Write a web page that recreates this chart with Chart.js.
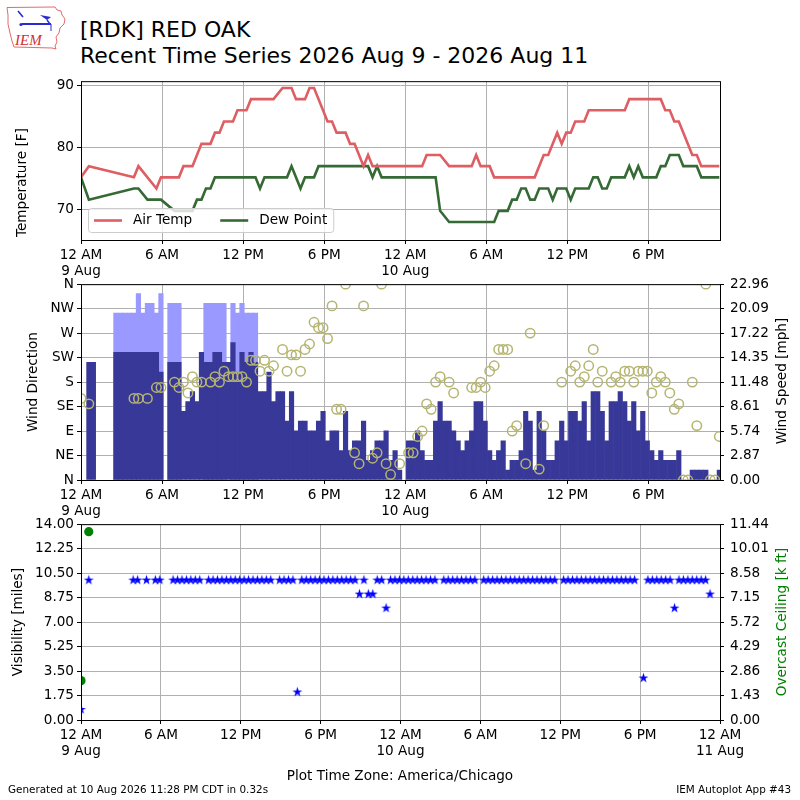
<!DOCTYPE html>
<html>
<head>
<meta charset="utf-8">
<title>[RDK] RED OAK Recent Time Series</title>
<script src="https://cdn.jsdelivr.net/npm/chart.js@4.4.1/dist/chart.umd.min.js"></script>
<style>
  html, body { margin: 0; padding: 0; background: #fff; }
  body { width: 800px; height: 800px; position: relative; overflow: hidden; font-family: 'DejaVu Sans', sans-serif; color: #000; }
  canvas { position: absolute; left: 0; }
  .txt { position: absolute; white-space: nowrap; }
  #title { left: 80px; top: 17px; font-size: 22px; line-height: 26px; }
  #tz { left: 0; width: 800px; text-align: center; top: 767px; font-size: 13.6px; line-height: 16px; }
  #gen { left: 8px; top: 783px; font-size: 10.4px; line-height: 12px; }
  #app { right: 9px; top: 783px; font-size: 10.4px; line-height: 12px; }
</style>
</head>
<body>
<svg width="80" height="56" style="position:absolute;left:0;top:0">
  <path d="M7,7.5 L55,7 L57,10 L61,11 L62,15 L65,19 L64,24 L60,28 L59,33 L56,37 L57,42 L55,46 L56,49 L52,48 L14,47 L12,41 L10,33 L8,24 L8,15 Z" fill="#fff" stroke="#e05a5a" stroke-width="0.9"/>
  <line x1="18" y1="11" x2="23" y2="17" stroke="#2a2ad0" stroke-width="1.6"/>
  <line x1="22" y1="24" x2="51" y2="24" stroke="#2a2ad0" stroke-width="2"/>
  <path d="M40,15 L51,17 L47,20 Z" fill="#2a2ad0"/>
  <line x1="47" y1="20" x2="50" y2="24" stroke="#2a2ad0" stroke-width="1.4"/>
  <circle cx="21" cy="24.5" r="1.6" fill="#2a2ad0"/>
  <line x1="51" y1="24" x2="51" y2="31" stroke="#2a2ad0" stroke-width="1"/>
  <text x="15" y="44.5" font-family="'Liberation Serif', 'DejaVu Serif', serif" font-style="italic" font-size="15" fill="#d43030">IEM</text>
</svg>
<div id="title" class="txt">[RDK] RED OAK<br>Recent Time Series 2026 Aug 9 - 2026 Aug 11</div>
<canvas id="tempCanvas" width="800" height="212" style="top:70px"></canvas>
<canvas id="windCanvas" width="800" height="252" style="top:270px"></canvas>
<canvas id="visCanvas" width="800" height="252" style="top:510px"></canvas>
<div id="tz" class="txt">Plot Time Zone: America/Chicago</div>
<div id="gen" class="txt">Generated at 10 Aug 2026 11:28 PM CDT in 0.32s</div>
<div id="app" class="txt">IEM Autoplot App #43</div>
<script>
// hours are counted from 12 AM 9 Aug (local time)
const hourLabels = ['12 AM', '6 AM', '12 PM', '6 PM'];
const dayLabels = ['9 Aug', '10 Aug', '11 Aug'];
const dirLabels = ['N', 'NE', 'E', 'SE', 'S', 'SW', 'W', 'NW', 'N'];
const upperTickHours = [0, 6, 12, 18, 24, 30, 36, 42];
const lowerTickHours = [0, 6, 12, 18, 24, 30, 36, 42, 48];
const tempTicks = [70, 80, 90];
const dirTicks = [0, 45, 90, 135, 180, 225, 270, 315, 360];
const speedTicks = [0, 2.87, 5.74, 8.61, 11.48, 14.35, 17.22, 20.09, 22.96];
const visTicks = [0, 1.75, 3.5, 5.25, 7, 8.75, 10.5, 12.25, 14];
const ceilTicks = [0, 1.43, 2.86, 4.29, 5.72, 7.15, 8.58, 10.01, 11.44];

// temperature traces (vertices)
const airTempHours = [0, 0.583, 3.917, 4.25, 5.583, 5.917, 7.25, 7.583, 8.25, 8.917,
  9.583, 9.917, 10.25, 10.583, 11.25, 11.583, 12.25, 12.583, 14.25, 14.917,
  15.583, 15.917, 16.583, 16.917, 17.25, 18.25, 18.583, 18.917, 19.583, 19.917,
  20.25, 20.917, 21.25, 21.583, 25.25, 25.583, 26.583, 27.25, 28.917, 29.25,
  29.583, 30.25, 30.583, 33.583, 34.25, 34.583, 35.25, 35.583, 35.917, 36.25,
  36.583, 37.25, 37.583, 40.25, 40.583, 42.917, 43.25, 43.583, 43.917, 44.25,
  45.25, 45.583, 45.917, 47.25];
const airTempF = [75.2, 77, 75.2, 77, 73.4, 75.2, 75.2, 77, 77, 80.6,
  80.6, 82.4, 82.4, 84.2, 84.2, 86, 86, 87.8, 87.8, 89.6,
  89.6, 87.8, 87.8, 89.6, 89.6, 84.2, 84.2, 82.4, 82.4, 80.6,
  80.6, 77, 78.8, 77, 77, 78.8, 78.8, 77, 77, 78.8,
  77, 77, 75.2, 75.2, 78.8, 78.8, 82.4, 80.6, 82.4, 82.4,
  84.2, 84.2, 86, 86, 87.8, 87.8, 86, 86, 84.2, 84.2,
  78.8, 78.8, 77, 77];
const dewHours = [0, 0.583, 3.917, 4.25, 4.917, 5.917, 6.917, 8.25, 8.583, 8.917,
  9.25, 9.583, 9.917, 12.917, 13.25, 13.583, 15.25, 15.583, 16.25, 16.583,
  17.25, 17.583, 21.25, 21.583, 21.917, 22.25, 26.25, 26.583, 27.25, 30.583,
  30.917, 31.583, 31.917, 32.25, 32.583, 32.917, 33.25, 33.583, 33.917, 34.583,
  34.917, 35.25, 35.917, 36.25, 36.583, 37.583, 37.917, 38.25, 38.583, 38.917,
  39.25, 40.25, 40.583, 40.917, 41.25, 41.583, 42.583, 42.917, 43.25, 43.583,
  44.25, 44.583, 45.583, 45.917, 47.25];
const dewPointF = [75.2, 71.6, 73.4, 73.4, 71.6, 71.6, 69.8, 69.8, 71.6, 71.6,
  73.4, 73.4, 75.2, 75.2, 73.4, 75.2, 75.2, 77, 73.4, 75.2,
  75.2, 77, 77, 75.2, 77, 75.2, 75.2, 69.8, 68, 68,
  69.8, 69.8, 71.6, 71.6, 73.4, 73.4, 71.6, 71.6, 73.4, 73.4,
  71.6, 73.4, 73.4, 71.6, 73.4, 73.4, 75.2, 75.2, 73.4, 73.4,
  75.2, 75.2, 77, 75.2, 77, 75.2, 75.2, 77, 77, 78.8,
  78.8, 77, 77, 75.2, 75.2];

// wind direction circles
const dirHours = [0, 0.583, 3.917, 4.25, 4.917, 5.583, 5.917, 6.917, 7.25, 7.583,
  7.917, 8.25, 8.583, 8.917, 9.583, 9.917, 10.25, 10.583, 10.917, 11.25,
  11.583, 11.917, 12.25, 12.583, 12.917, 13.25, 13.583, 13.917, 14.25, 14.917,
  15.25, 15.583, 15.917, 16.25, 16.583, 16.917, 17.25, 17.583, 17.917, 18.25,
  18.583, 18.917, 19.25, 19.583, 20.25, 20.583, 20.917, 21.583, 21.917, 22.25,
  22.583, 22.917, 23.583, 24.25, 24.583, 24.917, 25.25, 25.583, 25.917, 26.25,
  26.583, 27.25, 27.583, 28.917, 29.25, 29.583, 29.917, 30.25, 30.583, 30.917,
  31.25, 31.583, 31.917, 32.25, 32.917, 33.25, 33.917, 34.25, 35.583, 36.25,
  36.583, 36.917, 37.25, 37.583, 37.917, 38.25, 38.583, 39.25, 39.583, 39.917,
  40.25, 40.583, 40.917, 41.25, 41.583, 41.917, 42.25, 42.583, 42.917, 43.25,
  43.583, 43.917, 44.25, 44.583, 44.917, 45.25, 45.583, 46.25, 46.583, 46.917,
  47.25];
const windDirDeg = [150, 140, 150, 150, 150, 170, 170, 180, 170, 180,
  160, 190, 180, 180, 180, 190, 180, 200, 190, 190,
  190, 190, 180, 220, 220, 200, 220, 200, 210, 240,
  200, 230, 230, 200, 240, 250, 290, 280, 280, 260,
  320, 130, 130, 360, 50, 30, 320, 40, 50, 360,
  30, 10, 30, 50, 50, 80, 90, 140, 130, 180,
  190, 180, 160, 170, 170, 180, 170, 200, 210, 240,
  240, 240, 90, 100, 30, 270, 20, 100, 180, 200,
  210, 180, 190, 210, 240, 180, 200, 180, 190, 180,
  200, 200, 180, 200, 200, 200, 160, 180, 190, 180,
  160, 130, 140, 0, 0, 180, 100, 360, 0, 0,
  80];

// routine reports every 20 minutes (:15, :35, :55); each row below covers 3 hours
const clockHours = [];
for (let k = 0; k < 142; k++) clockHours.push(0.25 + k / 3);

const windSpeedMph = [
  null, 13.8, 13.8, null, null, null, null, 14.96, 14.96,
  14.96, 14.96, 14.96, 14.96, 14.96, 14.96, 14.96, 14.96, 12.66,
  null, 13.8, 13.8, 13.8, 8.06, 9.2, 10.36, 9.2, 14.96,
  13.8, 13.8, 14.96, 14.96, 13.8, 13.8, 16.11, 12.66, 14.96,
  13.8, 14.96, 13.8, 10.36, 10.36, 12.66, 9.2, 10.36, 10.36,
  6.9, 10.36, 5.75, 6.9, 6.9, 5.75, 5.75, 6.9, 8.06,
  4.6, 5.75, 5.75, 3.45, 8.06, 3.45, 4.6, 4.6, 6.9,
  2.3, 3.45, 4.6, 4.6, 5.75, 2.3, 3.45, 1.15, null,
  4.6, 4.6, 5.75, 3.45, 2.3, 2.3, 6.9, 9.2, 6.9,
  6.9, 5.75, 4.6, 3.45, 4.6, 5.75, 9.2, 9.2, 6.9,
  3.45, 2.3, 3.45, 4.6, 1.15, 2.3, 2.3, 3.45, 8.06,
  6.9, 1.15, 8.06, 5.75, 2.3, 2.3, 4.6, 6.9, 4.6,
  8.06, 8.06, 6.9, 9.2, 4.6, 10.36, 10.36, 8.06, 4.6,
  9.2, 9.2, 10.36, 9.2, 6.9, 9.2, 5.75, 8.06, 4.6,
  3.45, 2.3, 3.45, 2.3, 2.3, 2.3, 3.45, 0, 0,
  1.15, 1.15, 1.15, 1.15, 0, 0, 1.15];
// gusts only reported during the first day's morning
const windGustMph = [
  null, null, null, null, null, null, null, 19.56, 19.56,
  19.56, 19.56, 19.56, 21.86, 19.56, 20.7, 20.7, 19.56, 21.86,
  null, 20.7, 20.7, 20.7, null, null, null, null, null,
  20.7, 20.7, 20.7, 20.7, 20.7, null, 20.7, 19.56, 20.7,
  19.56, 19.56, 19.56];
const visibilityMiles = [
  null, 10, null, null, null, null, null, null, null,
  null, null, 10, 10, null, 10, null, 10, 10,
  null, null, 10, 10, 10, 10, 10, 10, 10,
  null, 10, 10, 10, 10, 10, 10, 10, 10,
  10, 10, 10, 10, 10, 10, 10, null, 10,
  10, 10, 10, 2, 10, 10, 10, 10, 10,
  10, 10, 10, 10, 10, 10, 10, 10, 9,
  10, 9, 9, 10, 10, 8, 10, 10, 10,
  10, 10, 10, 10, 10, 10, 10, 10, null,
  10, 10, 10, 10, 10, 10, 10, 10, null,
  10, 10, 10, 10, 10, 10, 10, 10, 10,
  10, 10, 10, 10, 10, 10, 10, 10, null,
  10, 10, 10, 10, 10, 10, 10, 10, 10,
  10, 10, 10, 10, 10, 10, 10, 10, null,
  3, 10, 10, 10, 10, 10, 10, 8, 10,
  10, 10, 10, 10, 10, 10, 9];
// special report at midnight
const specialHours = [0];
const specialVisMiles = [0.75];
const ceilingHours = [0, 0.583];
const ceilingKft = [2.3, 11.0];

const fontFamily = "'DejaVu Sans', sans-serif";
const fontSize = 13.6;
Chart.defaults.font.family = fontFamily;
Chart.defaults.font.size = fontSize;
Chart.defaults.color = '#000';

function pairs(xs, ys) {
  return xs.map((x, i) => ({ x: x, y: ys[i] === undefined ? null : ys[i] }));
}

function timeLabel(value) {
  const hour = Math.round(value);
  const label = hourLabels[(hour % 24) / 6];
  return hour % 24 === 0 ? [label, dayLabels[hour / 24]] : label;
}

function timeAxis(maxHour, tickHours) {
  return {
    type: 'linear', min: 0, max: maxHour, bounds: 'data', offset: false,
    afterBuildTicks: axis => { axis.ticks = tickHours.map(v => ({ value: v })); },
    afterFit: axis => { axis.height = 42; },
    ticks: { autoSkip: false, maxRotation: 0, padding: 3, callback: timeLabel },
    grid: { color: '#b0b0b0', lineWidth: 1, tickColor: '#000', tickLength: 4, offset: false },
    border: { display: false }
  };
}

function valueAxis(position, min, max, tickValues, format) {
  return {
    type: 'linear', position: position, min: min, max: max, bounds: 'data',
    afterBuildTicks: axis => { axis.ticks = tickValues.map(v => ({ value: v })); },
    afterFit: axis => { axis.width = position === 'left' ? 81 : 80; },
    ticks: { padding: position === 'left' ? 3 : 6, callback: format },
    grid: {
      color: '#b0b0b0', lineWidth: 1, tickColor: '#000', tickLength: 4,
      drawOnChartArea: position === 'left'
    },
    border: { display: false }
  };
}

// black box around the plot area, like the axes spines
const framePlugin = {
  id: 'frame',
  afterDraw(chart) {
    const { ctx, chartArea: a } = chart;
    ctx.save();
    ctx.strokeStyle = '#000';
    ctx.lineWidth = 1;
    ctx.strokeRect(a.left + 0.5, a.top + 0.5, a.right - a.left, a.bottom - a.top);
    ctx.restore();
  }
};

// vertical axis titles, all reading bottom to top
const sideTitlePlugin = {
  id: 'sideTitles',
  afterDraw(chart, args, opts) {
    const { ctx, chartArea: a } = chart;
    (opts.items || []).forEach(item => {
      ctx.save();
      ctx.translate(item.x, (a.top + a.bottom) / 2 + (item.dy || 0));
      ctx.rotate(-Math.PI / 2);
      ctx.font = fontSize + 'px ' + fontFamily;
      ctx.fillStyle = item.color || '#000';
      ctx.textAlign = 'center';
      ctx.textBaseline = 'middle';
      ctx.fillText(item.text, 0, 0);
      ctx.restore();
    });
  }
};

// legend box in the lower left corner of the temperature panel
const tempLegendPlugin = {
  id: 'tempLegend',
  afterDraw(chart) {
    const { ctx, chartArea: a } = chart;
    const sets = chart.data.datasets;
    const pad = 6, handle = 28, gap = 11, colGap = 28, h = 24;
    ctx.save();
    ctx.font = fontSize + 'px ' + fontFamily;
    let w = pad * 2;
    sets.forEach((d, i) => { w += handle + gap + ctx.measureText(d.label).width + (i ? colGap : 0); });
    const x0 = a.left + 7, y0 = a.bottom - 8 - h;
    ctx.beginPath();
    if (ctx.roundRect) ctx.roundRect(x0 + 0.5, y0 + 0.5, w, h, 3);
    else ctx.rect(x0 + 0.5, y0 + 0.5, w, h);
    ctx.fillStyle = 'rgba(255,255,255,0.8)';
    ctx.fill();
    ctx.strokeStyle = '#cccccc';
    ctx.lineWidth = 1;
    ctx.stroke();
    let x = x0 + pad;
    const yMid = y0 + h / 2 + 0.5;
    sets.forEach((d, i) => {
      if (i) x += colGap;
      ctx.strokeStyle = d.borderColor;
      ctx.lineWidth = d.borderWidth;
      ctx.beginPath();
      ctx.moveTo(x, yMid);
      ctx.lineTo(x + handle, yMid);
      ctx.stroke();
      x += handle + gap;
      ctx.fillStyle = '#000';
      ctx.textBaseline = 'middle';
      ctx.fillText(d.label, x, yMid);
      x += ctx.measureText(d.label).width;
    });
    ctx.restore();
  }
};

function starImage(radius, color) {
  const c = document.createElement('canvas');
  const size = Math.ceil(radius * 2 + 2);
  c.width = c.height = size;
  const g = c.getContext('2d');
  g.fillStyle = color;
  g.beginPath();
  for (let i = 0; i < 10; i++) {
    const r = i % 2 ? radius * 0.382 : radius;
    const ang = -Math.PI / 2 + i * Math.PI / 5;
    g.lineTo(size / 2 + r * Math.cos(ang), size / 2 + r * Math.sin(ang));
  }
  g.closePath();
  g.fill();
  return c;
}

const commonOptions = {
  responsive: false,
  animation: false,
  events: [],
  layout: { padding: { top: 10, left: 0, right: 0, bottom: 0 } }
};

// Temperature panel
new Chart(document.getElementById('tempCanvas'), {
  type: 'line',
  data: {
    datasets: [{
      label: 'Air Temp',
      data: pairs(airTempHours, airTempF),
      borderColor: '#dd5e63',
      borderWidth: 2.6,
      pointRadius: 0,
      tension: 0
    }, {
      label: 'Dew Point',
      data: pairs(dewHours, dewPointF),
      borderColor: '#356a35',
      borderWidth: 2.6,
      pointRadius: 0,
      tension: 0
    }]
  },
  options: Object.assign({}, commonOptions, {
    layout: { padding: { top: 10, left: 0, right: 80, bottom: 0 } },
    scales: {
      x: timeAxis(47.3, upperTickHours),
      y: valueAxis('left', 65.1, 90.7, tempTicks, v => String(v))
    },
    plugins: {
      legend: { display: false },
      tooltip: { enabled: false },
      sideTitles: { items: [{ text: 'Temperature [F]', x: 22, dy: 22 }] }
    }
  }),
  plugins: [framePlugin, sideTitlePlugin, tempLegendPlugin]
});

// Wind panel
new Chart(document.getElementById('windCanvas'), {
  type: 'bar',
  data: {
    datasets: [{
      type: 'scatter',
      label: 'Wind Direction',
      data: pairs(dirHours, windDirDeg),
      yAxisID: 'yDir',
      pointStyle: 'circle',
      pointRadius: 4.7,
      borderWidth: 1.5,
      borderColor: '#b5b571',
      backgroundColor: 'rgba(0,0,0,0)',
      clip: 0,
      order: 0
    }, {
      label: 'Wind Speed',
      data: pairs(clockHours, windSpeedMph),
      yAxisID: 'ySpd',
      backgroundColor: '#383898',
      borderWidth: 0,
      barPercentage: 1,
      categoryPercentage: 1,
      grouped: false,
      order: 1
    }, {
      label: 'Wind Gust',
      data: pairs(clockHours, windGustMph),
      yAxisID: 'ySpd',
      backgroundColor: '#9999ff',
      borderWidth: 0,
      barPercentage: 1,
      categoryPercentage: 1,
      grouped: false,
      order: 2
    }]
  },
  options: Object.assign({}, commonOptions, {
    scales: {
      x: timeAxis(47.3, upperTickHours),
      yDir: valueAxis('left', 0, 360, dirTicks, (v, i) => dirLabels[i]),
      ySpd: valueAxis('right', 0, 22.96, speedTicks, v => v.toFixed(2))
    },
    plugins: {
      legend: { display: false },
      tooltip: { enabled: false },
      sideTitles: { items: [
        { text: 'Wind Direction', x: 33, dy: 0 },
        { text: 'Wind Speed [mph]', x: 782, dy: -1 }
      ] }
    }
  }),
  plugins: [framePlugin, sideTitlePlugin]
});

// Visibility / ceiling panel
new Chart(document.getElementById('visCanvas'), {
  type: 'scatter',
  data: {
    datasets: [{
      label: 'Visibility',
      data: pairs(specialHours, specialVisMiles).concat(pairs(clockHours, visibilityMiles)),
      yAxisID: 'yVis',
      pointStyle: starImage(5.2, '#0000ff'),
      clip: 0
    }, {
      label: 'Overcast Ceiling',
      data: pairs(ceilingHours, ceilingKft),
      yAxisID: 'yCeil',
      pointStyle: 'circle',
      pointRadius: 4.6,
      borderWidth: 0,
      backgroundColor: '#008000',
      clip: 0
    }]
  },
  options: Object.assign({}, commonOptions, {
    scales: {
      x: timeAxis(48, lowerTickHours),
      yVis: valueAxis('left', 0, 14, visTicks, v => v.toFixed(2)),
      yCeil: valueAxis('right', 0, 11.44, ceilTicks, v => v.toFixed(2))
    },
    plugins: {
      legend: { display: false },
      tooltip: { enabled: false },
      sideTitles: { items: [
        { text: 'Visibility [miles]', x: 18, dy: 0 },
        { text: 'Overcast Ceiling [k ft]', x: 782, dy: 0, color: '#008000' }
      ] }
    }
  }),
  plugins: [framePlugin, sideTitlePlugin]
});
</script>
</body>
</html>
